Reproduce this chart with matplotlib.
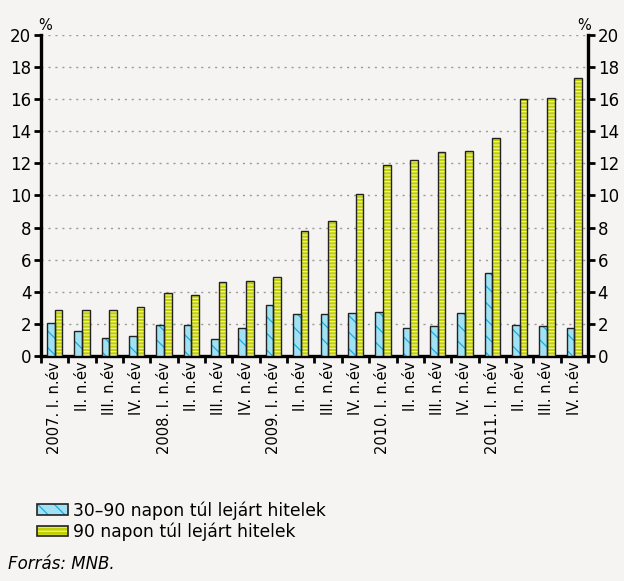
import matplotlib
matplotlib.use("Agg")
import matplotlib.pyplot as plt
import numpy as np
from matplotlib.patches import Patch
from matplotlib.legend_handler import HandlerTuple

# Negyedéves adatok (%)
negyedevek = ["I. n.év", "II. n.év", "III. n.év", "IV. n.év"]
evek = ["2007", "2008", "2009", "2010", "2011"]
kesedelem_30_90 = [2.05, 1.55, 1.15, 1.25, 1.95, 1.95, 1.05, 1.75, 3.2, 2.6,
                   2.6, 2.7, 2.75, 1.75, 1.85, 2.7, 5.15, 1.95, 1.85, 1.75]
kesedelem_90 = [2.85, 2.85, 2.85, 3.05, 3.9, 3.8, 4.6, 4.65, 4.9, 7.8,
                8.4, 10.1, 11.9, 12.2, 12.7, 12.8, 13.6, 16.0, 16.05, 17.35]
nev_30_90 = "30\u201390 napon túl lejárt hitelek"
nev_90 = "90 napon túl lejárt hitelek"

hatter = "#f5f4f2"
kek, kek_csik = "#a0e2f4", "#18aee0"
sarga, sarga_csik = "#c2d000", "#eef39a"
keret = "#222222"

plt.rcParams["font.family"] = ["DejaVu Sans"]
plt.rcParams["hatch.linewidth"] = 0.9

fig = plt.figure(figsize=(6.24, 5.81), dpi=100, facecolor=hatter)
ax = fig.add_axes([0.0657, 0.3873, 0.8766, 0.5525], facecolor=hatter)

n = len(kesedelem_90)
x = np.arange(n) + 0.5
w = 0.28

# Kitöltés + mintázat, majd külön fekete keret
ax.bar(x - w / 2, kesedelem_30_90, w, color=kek, edgecolor=kek_csik,
       hatch="\\\\", linewidth=0, zorder=3)
ax.bar(x + w / 2, kesedelem_90, w, color=sarga, edgecolor=sarga_csik,
       hatch="-----", linewidth=0, zorder=3)
ax.bar(x - w / 2, kesedelem_30_90, w, fill=False, edgecolor=keret,
       linewidth=1.0, zorder=4)
ax.bar(x + w / 2, kesedelem_90, w, fill=False, edgecolor=keret,
       linewidth=1.0, zorder=4)

ax.set_xlim(0, n)
ax.set_ylim(0, 20)
ax.set_yticks(range(0, 21, 2))
ax.yaxis.grid(True, color="#999999", linestyle=(0, (1.5, 3.5)), linewidth=1.0)
ax.set_axisbelow(True)

ax.set_xticks(np.arange(n + 1))
ax.set_xticklabels([])
ax.set_xticks(x, minor=True)
cimkek = []
for i in range(n):
    nv = negyedevek[i % 4]
    cimkek.append(f"{evek[i // 4]}. {nv}" if i % 4 == 0 else nv)
ax.set_xticklabels(cimkek, minor=True, rotation=90, fontsize=10.5)
ax.tick_params(axis="x", which="minor", length=0, pad=4)
ax.tick_params(axis="x", which="major", length=5, width=2, direction="out")
ax.tick_params(axis="y", length=5, width=2, labelsize=12, pad=2,
               left=True, right=True, labelleft=True, labelright=True)

ax.spines["top"].set_visible(False)
for s in ["left", "right", "bottom"]:
    ax.spines[s].set_linewidth(2.4)

ax.text(0.007, 1.005, "%", transform=ax.transAxes, fontsize=10.5,
        ha="center", va="bottom")
ax.text(0.993, 1.005, "%", transform=ax.transAxes, fontsize=10.5,
        ha="center", va="bottom")

# Jelmagyarázat: mintás kitöltés + fekete keret egymásra rakva
fogantyu_kek = (Patch(facecolor=kek, edgecolor=kek_csik, hatch="\\\\", linewidth=0),
                Patch(fill=False, edgecolor=keret, linewidth=1.2))
fogantyu_sarga = (Patch(facecolor=sarga, edgecolor=sarga_csik, hatch="----", linewidth=0),
                  Patch(fill=False, edgecolor=keret, linewidth=1.2))
fig.legend([fogantyu_kek, fogantyu_sarga], [nev_30_90, nev_90],
           handler_map={tuple: HandlerTuple(ndivide=1, pad=0)},
           loc="upper left", bbox_to_anchor=(0.059, 0.137),
           frameon=False, fontsize=12.3, handlelength=1.8, handleheight=0.6,
           handletextpad=0.3, labelspacing=0.15, borderaxespad=0, borderpad=0)

fig.text(0.013, 0.02, "Forrás: MNB.", style="italic", fontsize=12)

fig.savefig("out.png", dpi=100, facecolor=hatter)
